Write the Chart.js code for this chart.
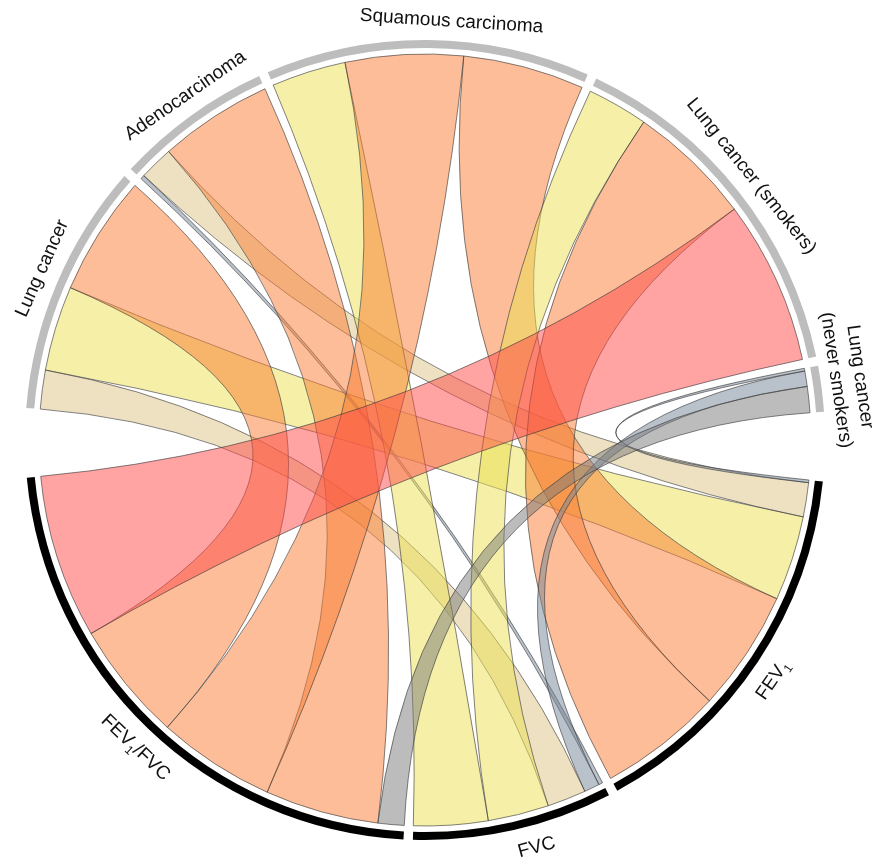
<!DOCTYPE html>
<html>
<head>
<meta charset="utf-8">
<script src="https://cdn.jsdelivr.net/npm/chart.js@4/dist/chart.umd.min.js"></script>
<style>
  html, body { margin: 0; padding: 0; background: #ffffff; }
  canvas { display: block; }
</style>
</head>
<body>
<canvas id="chord" width="872" height="860"></canvas>
<script>
// Sectors on the upper half: lung cancer phenotypes
const diseases = ['Lung cancer', 'Adenocarcinoma', 'Squamous carcinoma', 'Lung cancer (smokers)', 'Lung cancer (never smokers)'];
const diseaseLabels = ['Lung cancer', 'Adenocarcinoma', 'Squamous carcinoma', 'Lung cancer (smokers)', 'Lung cancer\n(never smokers)'];

// Sectors on the lower half: lung function traits
const traits = ['FEV₁', 'FVC', 'FEV₁/FVC'];

// Link strength between each trait and each phenotype (same order as `diseases`)
const fev1    = [12.7,  5.1, 18.1, 18.6, 0.4];
const fvc     = [ 5.8,  0.6, 11.1,  9.1, 2.3];
const fev1Fvc = [17.9, 17.0, 17.6, 24.5, 3.9];

const linkValues = [fev1, fvc, fev1Fvc];

// ---- layout & style ----
const START_DEG = 274.6;        // where the first sector begins (clockwise from 12 o'clock)
const SMALL_GAP_DEG = 1.35;     // gap between sectors inside a half
const GROUP_GAP_DEG = 10;       // gap between the two halves
const RING_WIDTH = 8;
const RIBBON_INSET = 6;
const LABEL_R = 421;
const LINE_H = 24;
const labelNudgeDeg = [1.2, 1.1, 3.2, -0.6, -0.9, 1.0, -2.5, -0.6];

const bandLimits = [3, 4.5, 8, 15, 20];
const bandColors = [
  'rgba(116,132,150,0.5)',  // slate
  'rgba(122,122,122,0.5)',  // grey
  'rgba(222,196,134,0.5)',  // tan
  'rgba(236,224,82,0.5)',   // yellow
  'rgba(250,124,50,0.5)',   // salmon
  'rgba(255,72,72,0.5)'     // pink
];
function linkColor(v) {
  let k = 0;
  while (k < bandLimits.length && v >= bandLimits[k]) k++;
  return bandColors[k];
}

// ---- sector table built from the arrays above ----
const sectors = [];
diseases.forEach((name, i) => {
  sectors.push({ group: 0, idx: i, label: diseaseLabels[i],
                 total: linkValues.reduce((s, arr) => s + arr[i], 0) });
});
traits.forEach((name, j) => {
  sectors.push({ group: 1, idx: j, label: name,
                 total: linkValues[j].reduce((s, v) => s + v, 0) });
});

const linkSum = sectors.reduce((s, x) => s + x.total, 0);
const unitsPerDeg = linkSum / (360 - SMALL_GAP_DEG * (sectors.length - 2) - GROUP_GAP_DEG * 2);

const ringData = [], ringColors = [];
sectors.forEach((s, k) => {
  ringData.push(s.total);
  ringColors.push(s.group === 0 ? '#bdbdbd' : '#000000');
  const endOfHalf = (k === diseases.length - 1) || (k === sectors.length - 1);
  ringData.push((endOfHalf ? GROUP_GAP_DEG : SMALL_GAP_DEG) * unitsPerDeg);
  ringColors.push('rgba(0,0,0,0)');
});

// ---- ribbons between the sectors ----
const ribbonPlugin = {
  id: 'ribbons',
  beforeDatasetsDraw(chart) {
    const arcs = chart.getDatasetMeta(0).data;
    const ctx = chart.ctx;
    const slots = {};
    sectors.forEach((s, k) => {
      const arc = arcs[2 * k];
      const ends = [];
      if (s.group === 0) traits.forEach((t, j) => ends.push({ key: 'd' + s.idx + 't' + j, v: linkValues[j][s.idx] }));
      else diseases.forEach((d, i) => ends.push({ key: 'd' + i + 't' + s.idx, v: linkValues[s.idx][i] }));
      ends.sort((a, b) => a.v - b.v);
      const scale = (arc.endAngle - arc.startAngle) / s.total;
      let a = arc.startAngle;
      ends.forEach(e => {
        const w = e.v * scale;
        slots[e.key + (s.group === 0 ? 'S' : 'T')] = [a, a + w];
        a += w;
      });
    });

    const ref = arcs[0];
    const cx = ref.x, cy = ref.y;
    const R = ref.innerRadius - RIBBON_INSET;

    ctx.save();
    ctx.lineWidth = 0.8;
    ctx.strokeStyle = 'rgba(60,60,60,0.8)';
    linkValues.forEach((arr, j) => {
      arr.forEach((v, i) => {
        const [s0, s1] = slots['d' + i + 't' + j + 'S'];
        const [t0, t1] = slots['d' + i + 't' + j + 'T'];
        ctx.beginPath();
        ctx.arc(cx, cy, R, s0, s1);
        ctx.quadraticCurveTo(cx, cy, cx + R * Math.cos(t0), cy + R * Math.sin(t0));
        ctx.arc(cx, cy, R, t0, t1);
        ctx.quadraticCurveTo(cx, cy, cx + R * Math.cos(s0), cy + R * Math.sin(s0));
        ctx.closePath();
        ctx.fillStyle = linkColor(v);
        ctx.fill();
        ctx.stroke();
      });
    });
    ctx.restore();
  }
};

// ---- sector names, bent along the ring ----
const SUBS = '₀₁₂₃₄₅₆₇₈₉';
function drawRich(ctx, text, size) {
  const runs = [];
  for (const ch of text) {
    const k = SUBS.indexOf(ch);
    const sub = k >= 0;
    const c = sub ? String(k) : ch;
    if (runs.length && runs[runs.length - 1].sub === sub) runs[runs.length - 1].t += c;
    else runs.push({ t: c, sub });
  }
  const mainFont = size + 'px "Liberation Sans", Arial, sans-serif';
  const subFont = Math.round(size * 0.62) + 'px "Liberation Sans", Arial, sans-serif';
  let total = 0;
  runs.forEach(r => { ctx.font = r.sub ? subFont : mainFont; r.w = ctx.measureText(r.t).width; total += r.w; });
  let x = -total / 2;
  const base = size * 0.716 / 2;
  runs.forEach(r => {
    ctx.font = r.sub ? subFont : mainFont;
    ctx.fillText(r.t, x, r.sub ? base + size * 0.25 : base);
    x += r.w;
  });
}

const labelPlugin = {
  id: 'sectorLabels',
  afterDraw(chart) {
    const arcs = chart.getDatasetMeta(0).data;
    const ctx = chart.ctx;
    const cx = arcs[0].x, cy = arcs[0].y;
    ctx.save();
    ctx.fillStyle = '#111111';
    ctx.textAlign = 'left';
    ctx.textBaseline = 'alphabetic';
    sectors.forEach((s, k) => {
      const arc = arcs[2 * k];
      const mid = (arc.startAngle + arc.endAngle) / 2 + labelNudgeDeg[k] * Math.PI / 180;
      let fromTop = (mid + Math.PI / 2) % (2 * Math.PI);
      if (fromTop < 0) fromTop += 2 * Math.PI;
      const bottom = fromTop > Math.PI / 2 && fromTop < 3 * Math.PI / 2;
      const lines = s.label.split('\n');
      const n = lines.length;
      lines.forEach((line, L) => {
        const r = n > 1 ? LABEL_R + 8 + ((n - 1) / 2 - L) * LINE_H : LABEL_R;
        ctx.save();
        ctx.translate(cx + r * Math.cos(mid), cy + r * Math.sin(mid));
        ctx.rotate(bottom ? mid - Math.PI / 2 : mid + Math.PI / 2);
        drawRich(ctx, line, 19);
        ctx.restore();
      });
    });
    ctx.restore();
  }
};

new Chart(document.getElementById('chord'), {
  type: 'doughnut',
  data: {
    labels: ringData.map((v, k) => (k % 2 === 0 ? sectors[k / 2].label : '')),
    datasets: [{
      data: ringData,
      backgroundColor: ringColors,
      borderWidth: 0,
      hoverOffset: 0,
      offset: 0
    }]
  },
  options: {
    responsive: false,
    animation: false,
    events: [],
    rotation: START_DEG,
    cutout: 400 - RING_WIDTH,
    layout: { padding: { left: 25, right: 47, top: 40, bottom: 20 } },
    plugins: {
      legend: { display: false },
      tooltip: { enabled: false }
    }
  },
  plugins: [ribbonPlugin, labelPlugin]
});
</script>
</body>
</html>
